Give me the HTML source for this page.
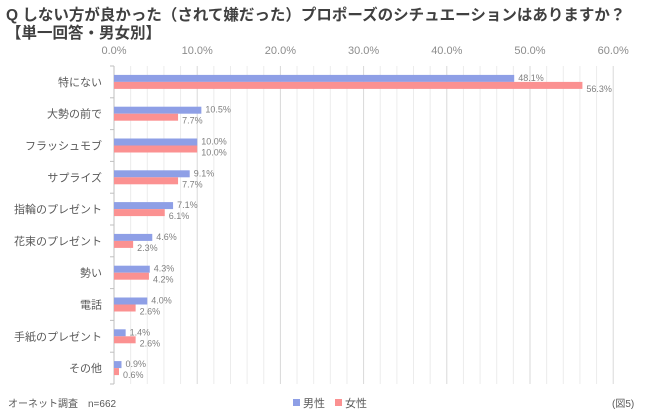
<!DOCTYPE html>
<html><head><meta charset="utf-8"><style>
body{margin:0;background:#fff;}
svg{display:block;font-family:"Liberation Sans","Noto Sans CJK JP",sans-serif;}
</style></head><body>
<svg id="c" width="650" height="417">
<text x="6" y="20" font-size="15.5" font-weight="bold" fill="#404040">Q しない方が良かった（されて嫌だった）プロポーズのシチュエーションはありますか？</text>
<text x="6" y="38" font-size="15.5" font-weight="bold" fill="#404040">【単一回答・男女別】</text>
<g id="grid"></g><g id="bars"></g>
<text x="8" y="407" font-size="10" fill="#595959">オーネット調査　n=662</text>
<rect x="293" y="399" width="7" height="7" fill="#8e9fe6"/>
<text x="303" y="407" font-size="11" fill="#595959">男性</text>
<rect x="335" y="399" width="7" height="7" fill="#fb9191"/>
<text x="345" y="407" font-size="11" fill="#595959">女性</text>
<text x="612" y="407" font-size="10" fill="#595959">(図5)</text>
</svg>
<script>
const categories=["特にない","大勢の前で","フラッシュモブ","サプライズ","指輪のプレゼント","花束のプレゼント","勢い","電話","手紙のプレゼント","その他"];
const male=[48.1,10.5,10.0,9.1,7.1,4.6,4.3,4.0,1.4,0.9];
const female=[56.3,7.7,10.0,7.7,6.1,2.3,4.2,2.6,2.6,0.6];
const ticks=[0,10,20,30,40,50,60];
const NS="http://www.w3.org/2000/svg";
const x0=114,pxPer=8.32,plotTop=66,rowH=31.8;
const xs=v=>x0+v*pxPer;
function mk(t,a,p){const e=document.createElementNS(NS,t);for(const k in a)e.setAttribute(k,a[k]);p.appendChild(e);return e;}
const g=document.getElementById('grid'),b=document.getElementById('bars');
const plotBottom=plotTop+rowH*categories.length;
for(let v=2;v<=60;v+=2){const l=mk('line',{x1:xs(v),x2:xs(v),y1:plotTop,y2:plotBottom,stroke:v%10?'#ececec':'#d9d9d9','stroke-width':1},g);

}
ticks.forEach(v=>{const t=mk('text',{x:xs(v),y:54,'font-size':11,fill:'#8c8c8c','text-anchor':'middle'},g);t.textContent=v.toFixed(1)+'%';

});
const ax=mk('line',{x1:x0,x2:x0,y1:plotTop,y2:plotBottom,stroke:'#bfbfbf'},g);


for(let i=0;i<=categories.length;i++){const tk=mk('line',{x1:x0-4,x2:x0,y1:plotTop+i*rowH,y2:plotTop+i*rowH,stroke:'#bfbfbf'},g);

}
categories.forEach((c,i)=>{const cy=plotTop+rowH*(i+0.5);
const t=mk('text',{x:x0-12,y:cy+4,'font-size':11,fill:'#595959','text-anchor':'end'},b);t.textContent=c;


const r1=mk('rect',{x:x0,y:cy-7,width:male[i]*pxPer,height:7,fill:'#8e9fe6'},b);


const r2=mk('rect',{x:x0,y:cy,width:female[i]*pxPer,height:7,fill:'#fb9191'},b);


const l1=mk('text',{x:xs(male[i])+4,y:cy-1,'font-size':9,fill:'#7f7f7f'},b);l1.textContent=male[i].toFixed(1)+'%';


const l2=mk('text',{x:xs(female[i])+4,y:cy+10,'font-size':9,fill:'#7f7f7f'},b);l2.textContent=female[i].toFixed(1)+'%';

});
</script>
</body></html>
